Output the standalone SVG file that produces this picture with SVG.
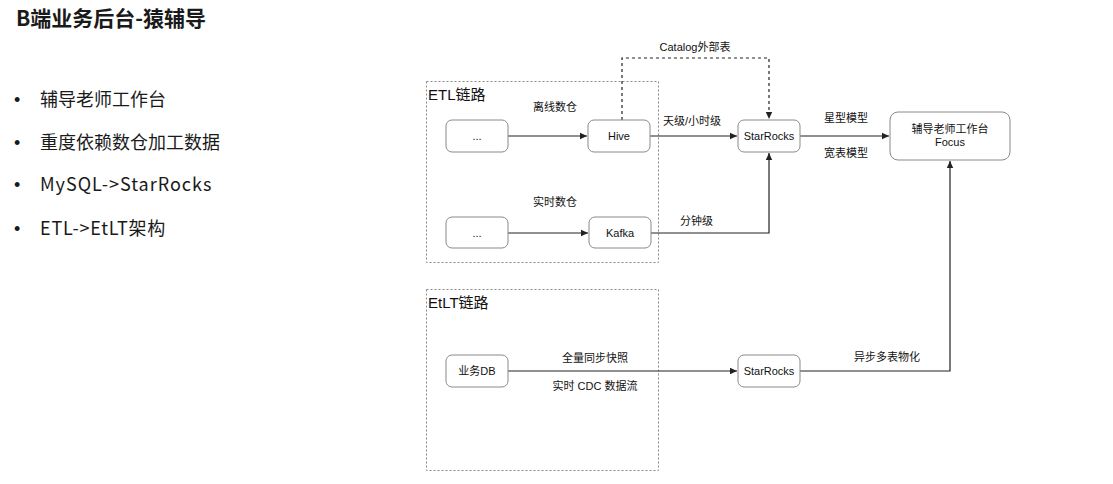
<svg xmlns="http://www.w3.org/2000/svg" width="1113" height="484" viewBox="0 0 1113 484">
<defs>
<marker id="ah" markerWidth="8" markerHeight="8" refX="7" refY="4" orient="auto" markerUnits="userSpaceOnUse">
<path d="M0,0.8 L7,4 L0,7.2 Z" fill="#222"/>
</marker>
<style>
.t{font-family:"Liberation Sans","Noto Sans CJK SC",sans-serif;fill:#111}
.lt{font-family:"Noto Sans CJK SC","Liberation Sans",sans-serif;fill:#1a1a1a}
.bl{font-family:"Liberation Sans",sans-serif;fill:#1a1a1a}
.node{fill:#fff;stroke:#8a8a8a;stroke-width:1}
.grp{fill:none;stroke:#8a8a8a;stroke-width:1;stroke-dasharray:2,2}
.c{fill:none;stroke:#222;stroke-width:1.2}
.d{fill:none;stroke:#222;stroke-width:1.2;stroke-dasharray:3,3}
.s{font-size:11px;text-anchor:middle}
.sl{font-size:11px}
</style>
</defs>
<rect width="1113" height="484" fill="#fff"/>
<g id="title">
<text class="lt" x="16" y="26" font-size="21" font-weight="bold">B端业务后台-猿辅导</text>
</g>
<g id="bullets" font-size="18">
<text class="bl" x="14" y="106">•</text><text class="lt" x="40" y="106">辅导老师工作台</text>
<text class="bl" x="14" y="149">•</text><text class="lt" x="40" y="149">重度依赖数仓加工数据</text>
<text class="bl" x="14" y="191">•</text><text class="lt" x="40" y="191" letter-spacing="1">MySQL-&gt;StarRocks</text>
<text class="bl" x="14" y="235">•</text><text class="lt" x="40" y="235" letter-spacing="0.8">ETL-&gt;EtLT架构</text>
</g>
<g id="etl-group">
<rect class="grp" x="426.5" y="81.5" width="232" height="181"/>
<text class="t" x="428" y="100" font-size="15">ETL链路</text>
</g>
<g id="etlt-group">
<rect class="grp" x="426.5" y="289.5" width="232" height="181"/>
<text class="t" x="428" y="308" font-size="15">EtLT链路</text>
</g>
<g id="connectors">
<line class="c" x1="508" y1="136" x2="587" y2="136" marker-end="url(#ah)"/>
<line class="c" x1="650" y1="136" x2="737" y2="136" marker-end="url(#ah)"/>
<line class="c" x1="508" y1="233" x2="588" y2="233" marker-end="url(#ah)"/>
<polyline class="c" points="651,233 769,233 769,153" marker-end="url(#ah)"/>
<polyline class="d" points="622,120 622,58 769,58 769,119" marker-end="url(#ah)"/>
<line class="c" x1="800" y1="136" x2="889" y2="136" marker-end="url(#ah)"/>
<line class="c" x1="508" y1="371" x2="737" y2="371" marker-end="url(#ah)"/>
<polyline class="c" points="800,371 950,371 950,161" marker-end="url(#ah)"/>
<text class="t s" x="555" y="111">离线数仓</text>
<text class="t s" x="555" y="206">实时数仓</text>
<text class="t sl" x="663" y="125">天级/小时级</text>
<text class="t sl" x="680" y="225">分钟级</text>
<text class="t s" x="695" y="51" font-size="10.5">Catalog外部表</text>
<text class="t s" x="846" y="122">星型模型</text>
<text class="t s" x="846" y="157">宽表模型</text>
<text class="t s" x="595" y="362" font-size="10.5">全量同步快照</text>
<text class="t s" x="595" y="390" font-size="10.5">实时 CDC 数据流</text>
<text class="t s" x="887" y="361">异步多表物化</text>
</g>
<g id="src1">
<rect class="node" x="446" y="120" width="62" height="32" rx="6"/>
<text class="t s" x="477" y="140" font-size="10">...</text>
</g>
<g id="hive">
<rect class="node" x="588" y="120" width="62" height="32" rx="6"/>
<text class="t s" x="619" y="140" font-size="10.5">Hive</text>
</g>
<g id="src2">
<rect class="node" x="446" y="217" width="62" height="31" rx="6"/>
<text class="t s" x="477" y="237" font-size="10">...</text>
</g>
<g id="kafka">
<rect class="node" x="589" y="217" width="62" height="31" rx="6"/>
<text class="t s" x="620" y="237" font-size="10.5">Kafka</text>
</g>
<g id="starrocks1">
<rect class="node" x="738" y="120" width="62" height="32" rx="6"/>
<text class="t s" x="769" y="140" font-size="10.5">StarRocks</text>
</g>
<g id="focus">
<rect class="node" x="890" y="112" width="120" height="48" rx="8"/>
<text class="t s" x="950" y="133" font-size="10.5">辅导老师工作台</text>
<text class="t s" x="950" y="146" font-size="10.5">Focus</text>
</g>
<g id="bizdb">
<rect class="node" x="446" y="355" width="62" height="32" rx="6"/>
<text class="t s" x="477" y="375" font-size="11">业务DB</text>
</g>
<g id="starrocks2">
<rect class="node" x="738" y="355" width="62" height="32" rx="6"/>
<text class="t s" x="769" y="375" font-size="10.5">StarRocks</text>
</g>
</svg>
